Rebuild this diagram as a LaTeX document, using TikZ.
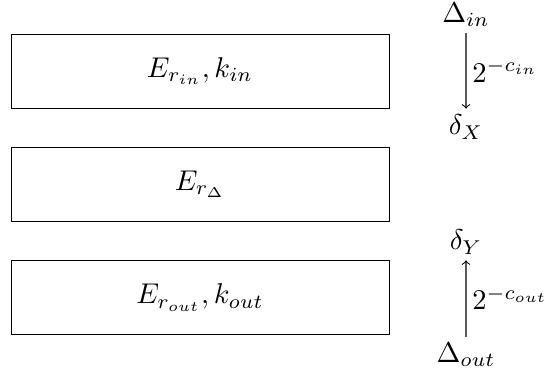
\documentclass[tikz,border=0pt]{standalone}
\usepackage{amssymb,amsmath}
\usetikzlibrary{positioning}

\begin{document}
\begin{tikzpicture}[x=0.0150cm,y=-0.0150cm]
  \tikzset{BlockStyle/.style = {
    shape         = rectangle,
    draw          = black,
    fill          = white,
    line width    = 0.4pt/1.22,
    text          = black,
    minimum width = 378*0.0150cm/1.22,
    minimum height= 74*0.0150cm/1.22,
    inner sep     = 0pt,
    outer sep     = 0pt,
    scale         = 1.22
    }
  }
  \tikzset{ErrStyle/.style = {
    inner sep     = 2pt,
    text          = black,
    scale         = 1.22
    }
  }
  \tikzset{FlowStyle/.style = {
    draw          = black,
    line width    = 0.45pt,
    ->
    }
  }
  \useasboundingbox (0,0) rectangle (545,377);

	\node[BlockStyle](Bin) at (200, 71) {$E_{r_{in}}, k_{in}$};
	\node[BlockStyle](Bmid) at (200, 184.5) {$E_{r_{\Delta}}$};
	\node[BlockStyle](Bout) at (200, 297.5) {$E_{r_{out}}, k_{out}$};

	\node[ErrStyle](Din) at (466, 15) {$\Delta_{in}$};
	\node[ErrStyle](dX) at (466, 127) {$\delta_X$};
	\node[ErrStyle](dY) at (466, 242) {$\delta_Y$};
	\node[ErrStyle](Dout) at (466, 355) {$\Delta_{out}$};
	\draw[FlowStyle](Din) to node[ErrStyle,right=0pt]{$2^{-c_{in}}$} (dX);
	\draw[FlowStyle](Dout) to node[ErrStyle,right=0pt]{$2^{-c_{out}}$} (dY);

\end{tikzpicture}
\end{document}
